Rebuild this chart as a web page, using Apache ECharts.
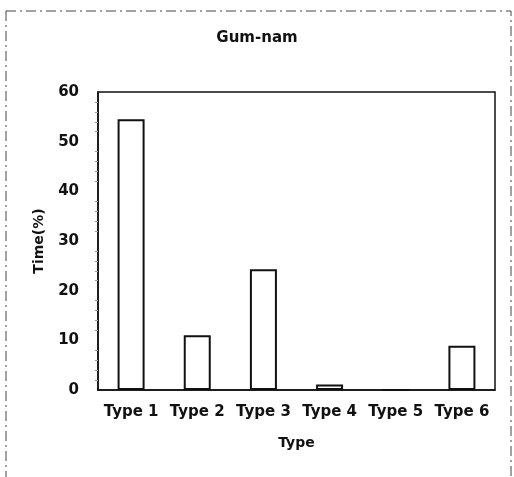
<!DOCTYPE html>
<html><head><meta charset="utf-8">
<script src="https://cdn.jsdelivr.net/npm/echarts@6/dist/echarts.min.js"></script>
<style>html,body{margin:0;padding:0;background:#fff}#c{width:514px;height:477px}</style>
</head><body><div id="c"></div>
<script>
var categories = ['Type 1','Type 2','Type 3','Type 4','Type 5','Type 6'];
var values = [54.5, 11, 24.3, 1.1, 0, 8.9];
var yTicks = [0,10,20,30,40,50,60];
var titleText = 'Gum-nam';
var xName = 'Type';
var yName = 'Time(%)';

var chart = echarts.init(document.getElementById('c'), null, {renderer:'canvas'});
var font = '"DejaVu Sans", sans-serif';
chart.setOption({
  animation:false,
  backgroundColor:'#fff',
  title:{text:titleText,left:'center',top:26,textStyle:{fontFamily:font,fontSize:15,fontWeight:'bold',color:'#111'}},
  grid:{left:98,right:19,top:92,bottom:87,show:true,borderColor:'#111',borderWidth:1.5},
  graphic:[{type:'rect',shape:{x:6,y:11,width:505,height:480},style:{fill:'none',stroke:'#444',lineWidth:1,lineDash:[10,4,2,4]},silent:true}],
  xAxis:{type:'category',data:categories,name:xName,nameLocation:'middle',nameGap:46,
    nameTextStyle:{fontFamily:font,fontSize:14,fontWeight:'bold',color:'#111'},
    axisLine:{lineStyle:{color:'#111',width:1.5}},axisTick:{show:false},
    axisLabel:{fontFamily:font,fontSize:15,fontWeight:'bold',color:'#111',margin:15,interval:0}},
  yAxis:{type:'value',min:0,max:60,interval:10,name:yName,nameLocation:'middle',nameGap:52,
    nameTextStyle:{fontFamily:font,fontSize:14,fontWeight:'bold',color:'#111'},
    axisLine:{show:true,lineStyle:{color:'#111',width:1.5}},splitLine:{show:false},
    axisTick:{show:false},
    minorTick:{show:true,splitNumber:5,length:3,lineStyle:{color:'#999'}},
    axisLabel:{fontFamily:font,fontSize:15,fontWeight:'bold',color:'#111',margin:19,
      formatter:function(v){return yTicks.indexOf(v)>=0?String(v):'';}}},
  series:[{type:'bar',data:values,barWidth:27,
    itemStyle:{color:'#fff',borderColor:'#111',borderWidth:2}}]
});
</script></body></html>
